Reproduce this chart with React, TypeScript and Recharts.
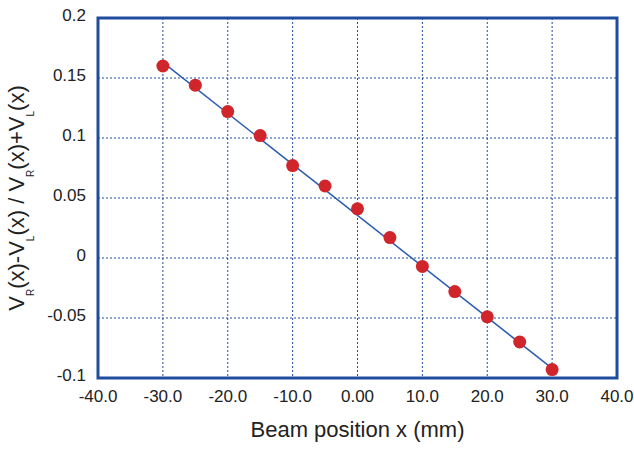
import { ScatterChart, Scatter, XAxis, YAxis, CartesianGrid, ReferenceArea, Label } from 'recharts';

// measured points
const positions = [-30, -25, -20, -15, -10, -5, 0, 5, 10, 15, 20, 25, 30];
const ratios = [0.160, 0.144, 0.122, 0.102, 0.077, 0.060, 0.041, 0.017, -0.007, -0.028, -0.049, -0.070, -0.093];

// linear fit end points
const fitX = [-30, 30];
const fitY = [0.163, -0.092];

const xTicks = [-40, -30, -20, -10, 0, 10, 20, 30, 40];
const xTickLabels = ['-40.0', '-30.0', '-20.0', '-10.0', '0.00', '10.0', '20.0', '30.0', '40.0'];
const yTicks = [-0.1, -0.05, 0, 0.05, 0.1, 0.15, 0.2];
const yTickLabels = ['-0.1', '-0.05', '0', '0.05', '0.1', '0.15', '0.2'];

const points = positions.map((x, i) => ({ x, y: ratios[i] }));
const fit = fitX.map((x, i) => ({ x, y: fitY[i] }));

const BLUE = '#1f4c9e';
const FONT = '"Liberation Sans", Arial, sans-serif';
const TEXT = '#222';

const XTick = (props: any) => {
  const { x, y, payload } = props;
  const i = xTicks.indexOf(payload.value);
  return (
    <text x={x} y={y + 12} textAnchor="middle" fontSize={17} fill={TEXT} fontFamily={FONT}>
      {xTickLabels[i]}
    </text>
  );
};

const YTick = (props: any) => {
  const { x, y, payload } = props;
  const i = yTicks.findIndex((t) => Math.abs(t - payload.value) < 1e-9);
  return (
    <text x={x} y={y + 2.5} textAnchor="end" fontSize={17} fill={TEXT} fontFamily={FONT}>
      {yTickLabels[i]}
    </text>
  );
};

const Dot = (props: any) => <circle cx={props.cx} cy={props.cy} r={6.5} fill="#d0262b" />;

const YTitle = (props: any) => {
  const { viewBox } = props;
  const bx = 24;
  const cy = viewBox.y + viewBox.height / 2;
  const sub = 10;
  return (
    <text
      x={bx}
      y={cy}
      transform={`rotate(-90, ${bx}, ${cy})`}
      textAnchor="middle"
      fontSize={22}
      fill={TEXT}
      fontFamily={FONT}
    >
      <tspan>V</tspan>
      <tspan fontSize={10} dy={sub}>R</tspan>
      <tspan dy={-sub}>(x)-V</tspan>
      <tspan fontSize={10} dy={sub}>L</tspan>
      <tspan dy={-sub}>(x) / V</tspan>
      <tspan fontSize={10} dy={sub}>R</tspan>
      <tspan dy={-sub}>(x)+V</tspan>
      <tspan fontSize={10} dy={sub}>L</tspan>
      <tspan dy={-sub}>(x)</tspan>
    </text>
  );
};

export default function App() {
  return (
    <div style={{ position: 'absolute', left: 0, top: 0, width: 634, height: 449, background: '#fff' }}>
      <ScatterChart width={634} height={449} margin={{ top: 18, right: 17, bottom: 0, left: 0 }}>
        <CartesianGrid stroke={BLUE} strokeDasharray="2 2" strokeWidth={1} />
        <XAxis
          type="number"
          dataKey="x"
          domain={[-40, 40]}
          ticks={xTicks}
          height={71}
          axisLine={false}
          tickLine={false}
          tickMargin={6}
          tick={<XTick />}
        >
          <Label
            value="Beam position x (mm)"
            position="insideBottom"
            offset={12}
            style={{ fontSize: 22, fill: TEXT, fontFamily: FONT }}
          />
        </XAxis>
        <YAxis
          type="number"
          dataKey="y"
          domain={[-0.1, 0.2]}
          ticks={yTicks}
          width={98}
          axisLine={false}
          tickLine={false}
          tickMargin={6}
          tick={<YTick />}
        >
          <Label content={<YTitle />} />
        </YAxis>
        <ReferenceArea x1={-40} x2={40} y1={-0.1} y2={0.2} fill="none" stroke={BLUE} strokeWidth={3} ifOverflow="visible" />
        <Scatter
          data={fit}
          line={{ stroke: '#2a5caf', strokeWidth: 1.5 }}
          shape={() => <g />}
          isAnimationActive={false}
        />
        <Scatter data={points} shape={<Dot />} isAnimationActive={false} />
      </ScatterChart>
    </div>
  );
}
